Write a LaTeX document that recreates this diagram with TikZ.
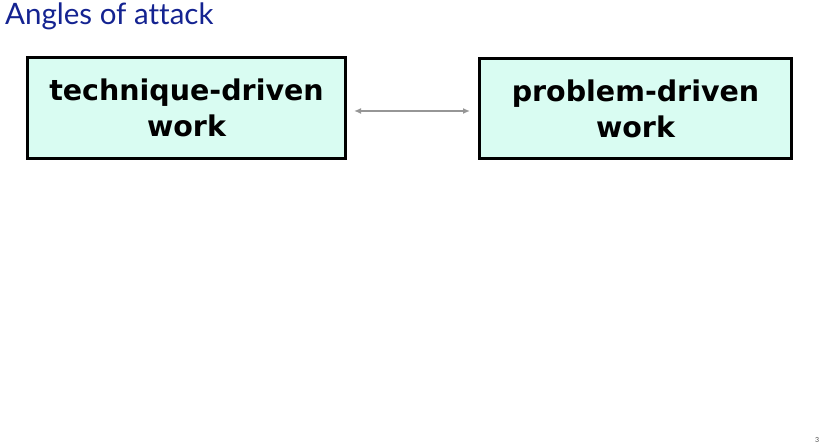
\documentclass[tikz,border=0pt]{standalone}
\usepackage{fontspec}
\setmainfont{Lato}[Ligatures=NoCommon]
\newfontfamily\boxfont{DejaVu Sans}
\usetikzlibrary{arrows.meta}
\definecolor{titleblue}{RGB}{20,35,145}
\definecolor{boxfill}{RGB}{217,252,242}
\definecolor{arrowgray}{RGB}{150,150,150}
\tikzset{
  workbox/.style={draw=black, line width=3pt, fill=boxfill, align=center,
    font=\boxfont\fontsize{28.5}{36}\selectfont\bfseries, inner sep=0pt},
  linkarrow/.style={draw=arrowgray, line width=1.5pt, {Latex[length=7pt,width=6pt]}-{Latex[length=7pt,width=6pt]}}
}
\begin{document}
\begin{tikzpicture}[x=1pt,y=1pt]
\useasboundingbox (0,0) rectangle (821,443);
\node[anchor=base west, text=titleblue, font=\fontsize{29.5}{34}\selectfont, inner sep=0pt] (title) at (5,418) {Angles of attack};
\node[workbox, minimum width=318pt, minimum height=101pt] (tech) at (186.5,335) {technique-driven\\work};
\node[workbox, minimum width=312pt, minimum height=100pt] (prob) at (635.5,334.5) {problem-driven\\work};
\draw[linkarrow, shorten <=7pt, shorten >=8pt] ([yshift=-3pt]tech.east) -- ([yshift=-2.5pt]prob.west);
\node[anchor=base west, font=\fontsize{7}{8}\selectfont, inner sep=0pt, text=black!70] (pagenum) at (815,0) {3};
\end{tikzpicture}
\end{document}
